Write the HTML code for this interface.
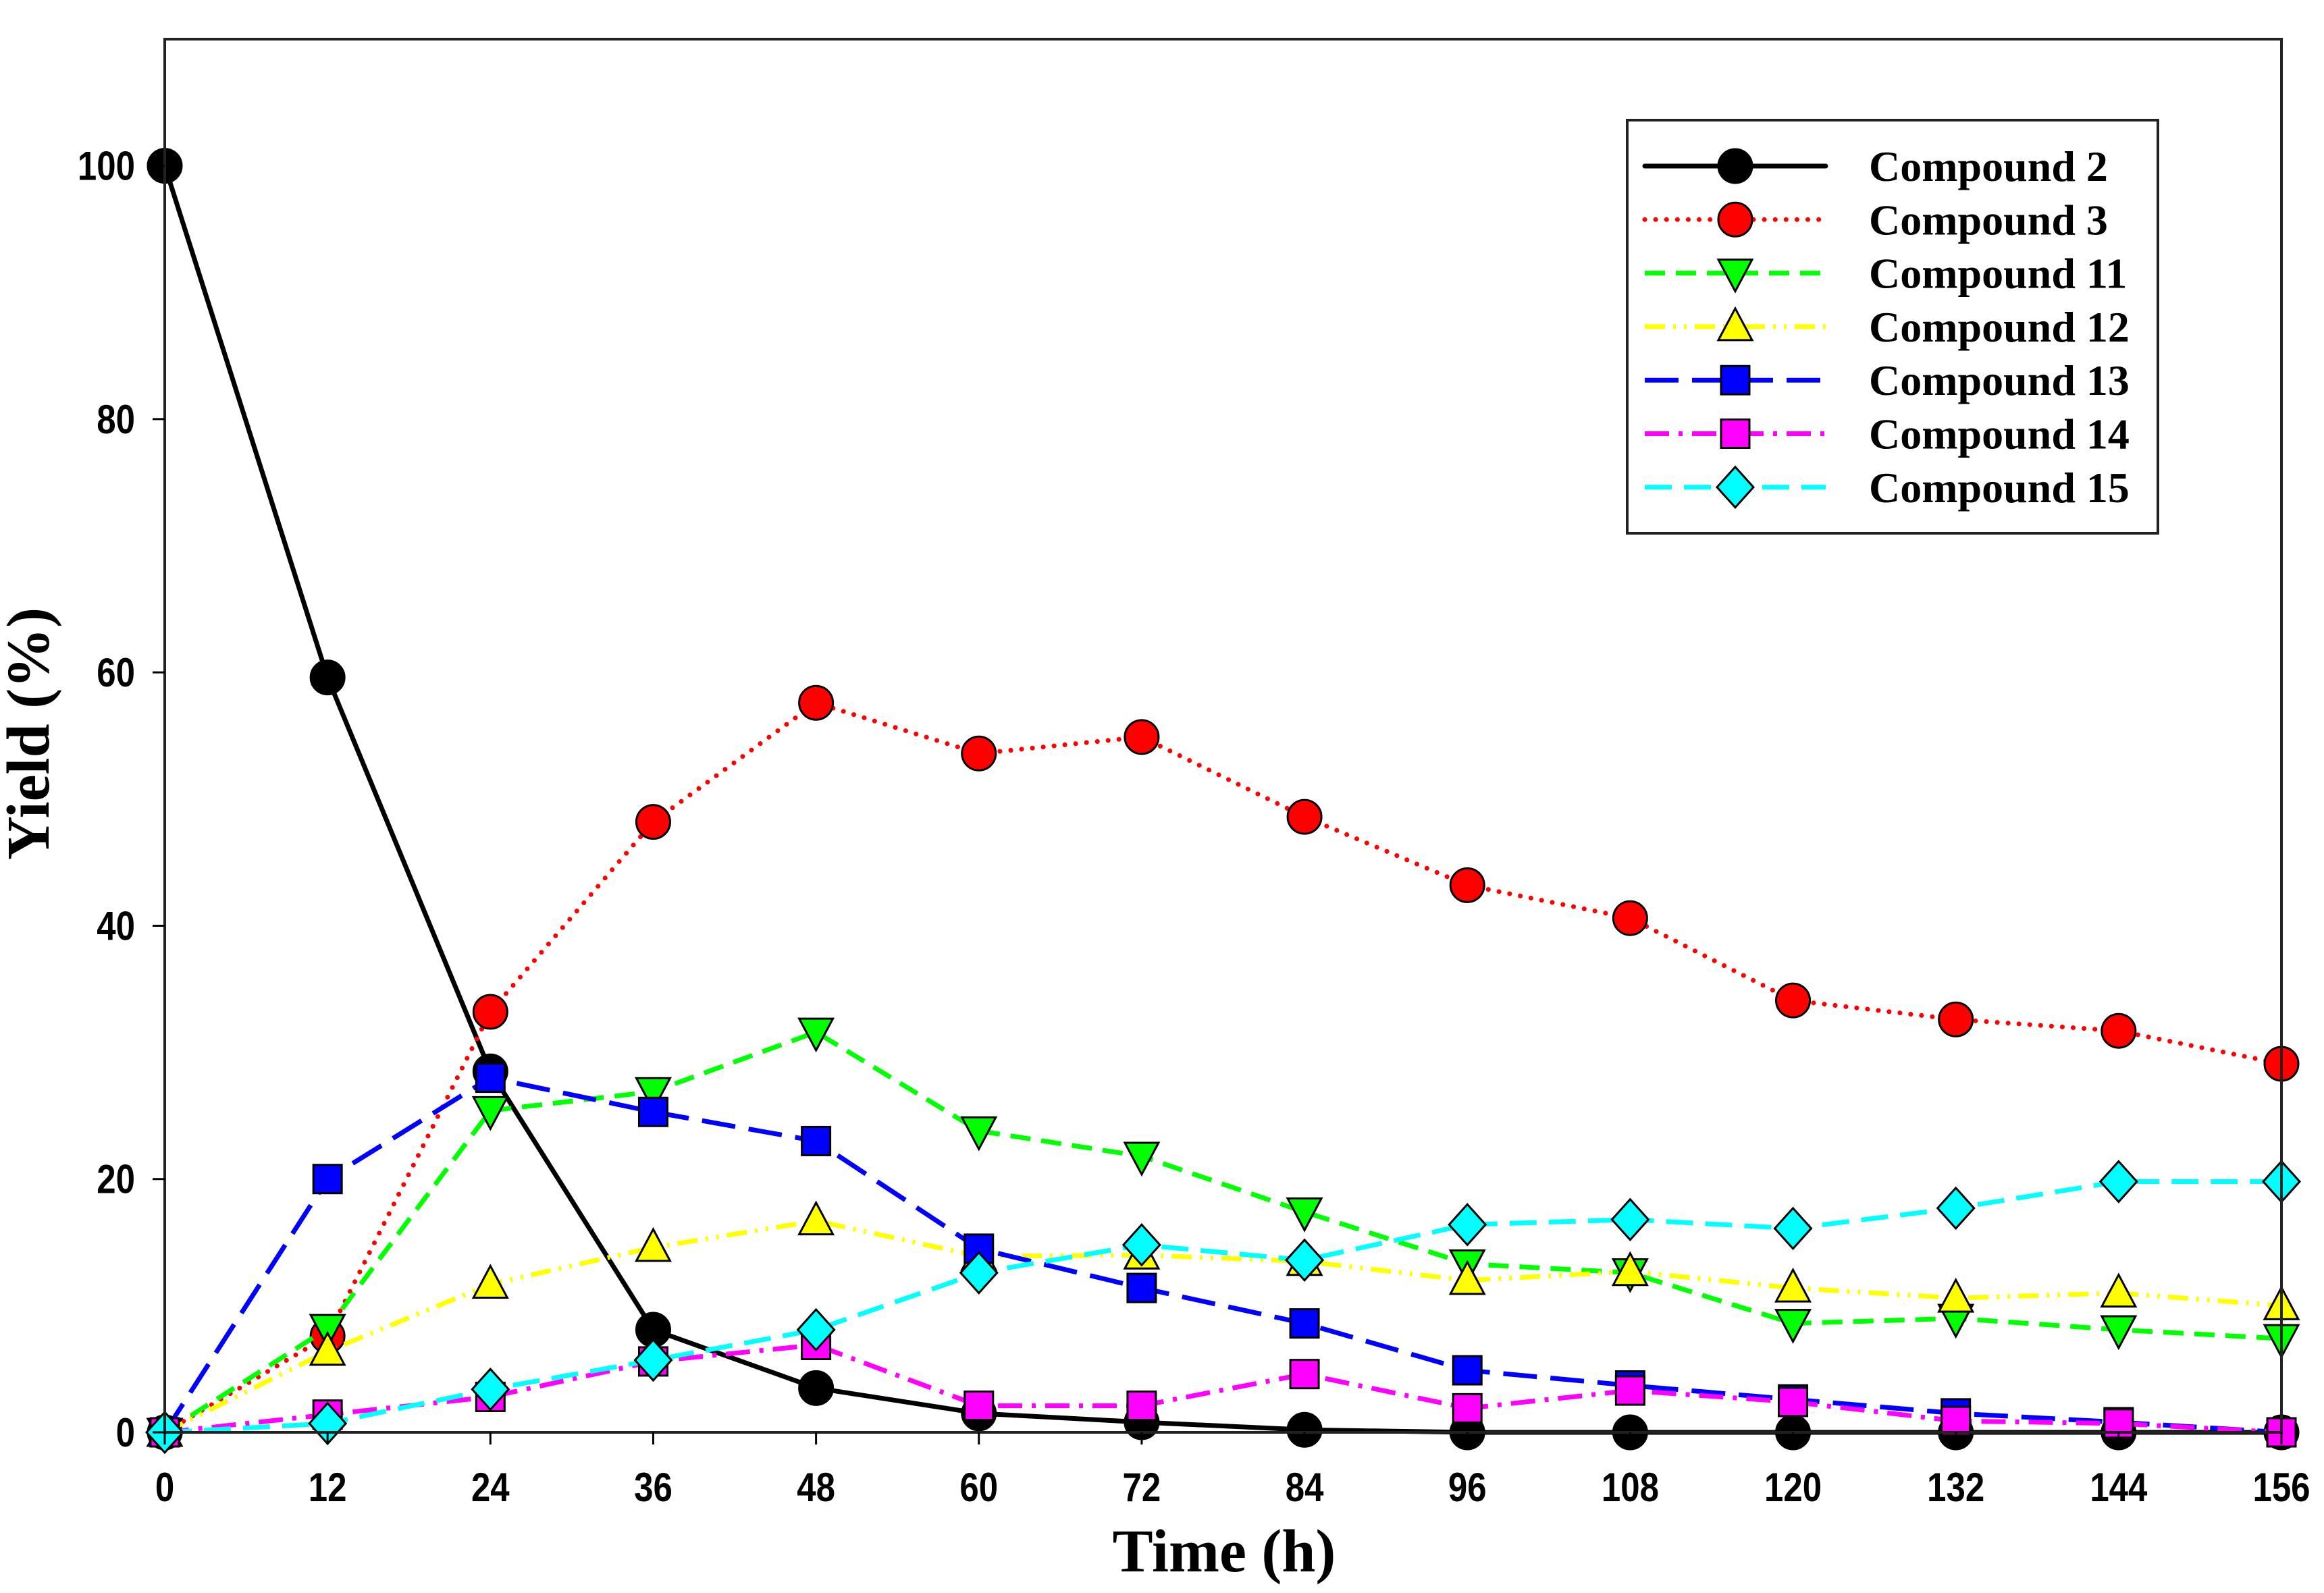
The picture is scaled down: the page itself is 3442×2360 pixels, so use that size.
<!DOCTYPE html>
<html><head><meta charset="utf-8"><style>html,body{margin:0;padding:0;background:#fff}svg{display:block}</style></head>
<body>
<svg id="chart" width="3442" height="2360" viewBox="0 0 3442 2360" xmlns="http://www.w3.org/2000/svg">
<rect x="0" y="0" width="3442" height="2360" fill="#ffffff"/>
<g id="series-layer"></g>
<g id="axes-layer"></g>
</svg>
<script>
const times = [0,12,24,36,48,60,72,84,96,108,120,132,144,156];
const xTicks = ["0","12","24","36","48","60","72","84","96","108","120","132","144","156"];
const yTicks = [0,20,40,60,80,100];
const c2  = [100,59.6,28.5,8.1,3.5,1.5,0.8,0.2,0,0,0,0,0,0];
const c3  = [0,7.6,33.2,48.2,57.6,53.6,54.9,48.6,43.2,40.6,34.1,32.6,31.7,29.1];
const c11 = [0,8.2,25.4,26.9,31.6,23.8,21.8,17.4,13.3,12.6,8.6,9.0,8.1,7.4];
const c12 = [0,6.4,11.7,14.6,16.7,13.9,14.0,13.5,12.0,12.7,11.4,10.6,11.0,10.0];
const c13 = [0,20.0,28.0,25.3,23.0,14.5,11.4,8.6,4.9,3.7,2.6,1.5,0.8,0];
const c14 = [0,1.4,2.8,5.6,6.9,2.1,2.1,4.6,1.9,3.3,2.4,0.9,0.7,0];
const c15 = [0,0.7,3.4,5.7,8.1,12.6,14.8,13.6,16.4,16.8,16.1,17.7,19.8,19.8];
const seriesNames = ["Compound 2","Compound 3","Compound 11","Compound 12","Compound 13","Compound 14","Compound 15"];

const NS="http://www.w3.org/2000/svg";
const L=244,R=3379,B=2122,T=58;
const xS=t=>L+(t-0)/(156-0)*(R-L);
const yS=v=>B-(v-0)/(110-0)*(B-T);
const styles=[
 {data:c2,color:"#000000",dash:"",marker:"circle",cap:"round"},
 {data:c3,color:"#ff0000",dash:"0.1,16",marker:"circle",cap:"round"},
 {data:c11,color:"#00ff00",dash:"30,16",marker:"down",cap:"butt"},
 {data:c12,color:"#ffff00",dash:"30,12,4,12,4,12",marker:"up",cap:"butt"},
 {data:c13,color:"#0000ff",dash:"50,20",marker:"square",cap:"butt"},
 {data:c14,color:"#ff00ff",dash:"36,14,6,14",marker:"square",cap:"butt"},
 {data:c15,color:"#00ffff",dash:"40,18",marker:"diamond",cap:"butt"}
];
function mk(tag,attrs,parent){const e=document.createElementNS(NS,tag);for(const k in attrs)e.setAttribute(k,attrs[k]);parent.appendChild(e);return e;}
function marker(type,x,y,fill,parent,name){
 let e;const s=25;
 if(type==="circle"){e=mk("ellipse",{cx:x,cy:y,rx:s,ry:s,fill:fill,stroke:"#000","stroke-width":3},parent);}
 else if(type==="square"){e=mk("rect",{x:x-21,y:y-21,width:42,height:42,fill:fill,stroke:"#000","stroke-width":3},parent);}
 else if(type==="down"){e=mk("polygon",{points:`${x-25},${y-20} ${x+25},${y-20} ${x},${y+27}`,fill:fill,stroke:"#000","stroke-width":3},parent);}
 else if(type==="up"){e=mk("polygon",{points:`${x-25},${y+20} ${x+25},${y+20} ${x},${y-27}`,fill:fill,stroke:"#000","stroke-width":3},parent);}
 else {e=mk("polygon",{points:`${x},${y-30} ${x+27},${y} ${x},${y+30} ${x-27},${y}`,fill:fill,stroke:"#000","stroke-width":3},parent);}
 
 
 return e;
}
const sl=document.getElementById("series-layer");
styles.forEach((st,i)=>{
 const g=mk("g",{},sl);
 
 
 const pts=st.data.map((v,j)=>xS(times[j])+","+yS(v)).join(" ");
 const pl=mk("polyline",{points:pts,fill:"none",stroke:st.color,"stroke-width":7,"stroke-dasharray":st.dash,"stroke-linecap":st.cap,"stroke-linejoin":"round"},g);
 
 
 st.data.forEach((v,j)=>marker(st.marker,xS(times[j]),yS(v),st.color,g,'point'));
});
const ax=document.getElementById("axes-layer");
const fr=mk("rect",{x:L,y:T,width:R-L,height:B-T,fill:"none",stroke:"#222","stroke-width":4},ax);


xTicks.forEach((lab,j)=>{
 const x=xS(times[j]);
 const tk=mk("line",{x1:x,y1:B,x2:x,y2:B+18,stroke:"#000","stroke-width":3},ax);
 
 
 const t=mk("text",{x:0,y:0,"text-anchor":"middle","font-family":"Liberation Sans, sans-serif","font-weight":"bold","font-size":60,transform:`translate(${x},2224) scale(0.85,1)`},ax);
 t.textContent=lab;
 
 
});
yTicks.forEach(v=>{
 const y=yS(v);
 const tk=mk("line",{x1:L-18,y1:y,x2:L,y2:y,stroke:"#000","stroke-width":3},ax);
 
 
 const t=mk("text",{x:0,y:0,"text-anchor":"end","font-family":"Liberation Sans, sans-serif","font-weight":"bold","font-size":60,transform:`translate(200,${y+21}) scale(0.85,1)`},ax);
 t.textContent=String(v);
 
 
});
const xt=mk("text",{x:1813,y:2328,"text-anchor":"middle","font-family":"Liberation Serif, serif","font-weight":"bold","font-size":90},ax);
xt.textContent="Time (h)";


const yt=mk("text",{x:0,y:0,"text-anchor":"middle","font-family":"Liberation Serif, serif","font-weight":"bold","font-size":90,transform:"translate(72,1087) rotate(-90)"},ax);
yt.textContent="Yield (%)";


const lg=mk("g",{},ax);


const lb=mk("rect",{x:2410,y:178,width:786,height:612,fill:"#fff",stroke:"#222","stroke-width":4},lg);


styles.forEach((st,i)=>{
 const y=246+i*79.3;
 const e=mk("g",{},lg);
 
 
 mk("line",{x1:2436,y1:y,x2:2704,y2:y,stroke:st.color,"stroke-width":7,"stroke-dasharray":st.dash,"stroke-linecap":st.cap},e);
 marker(st.marker,2570,y,st.color,e,'legend-marker');
 const t=mk("text",{x:2768,y:y+22,"font-family":"Liberation Serif, serif","font-weight":"bold","font-size":64},e);
 t.textContent=seriesNames[i];
 
 
});
</script>
</body></html>
